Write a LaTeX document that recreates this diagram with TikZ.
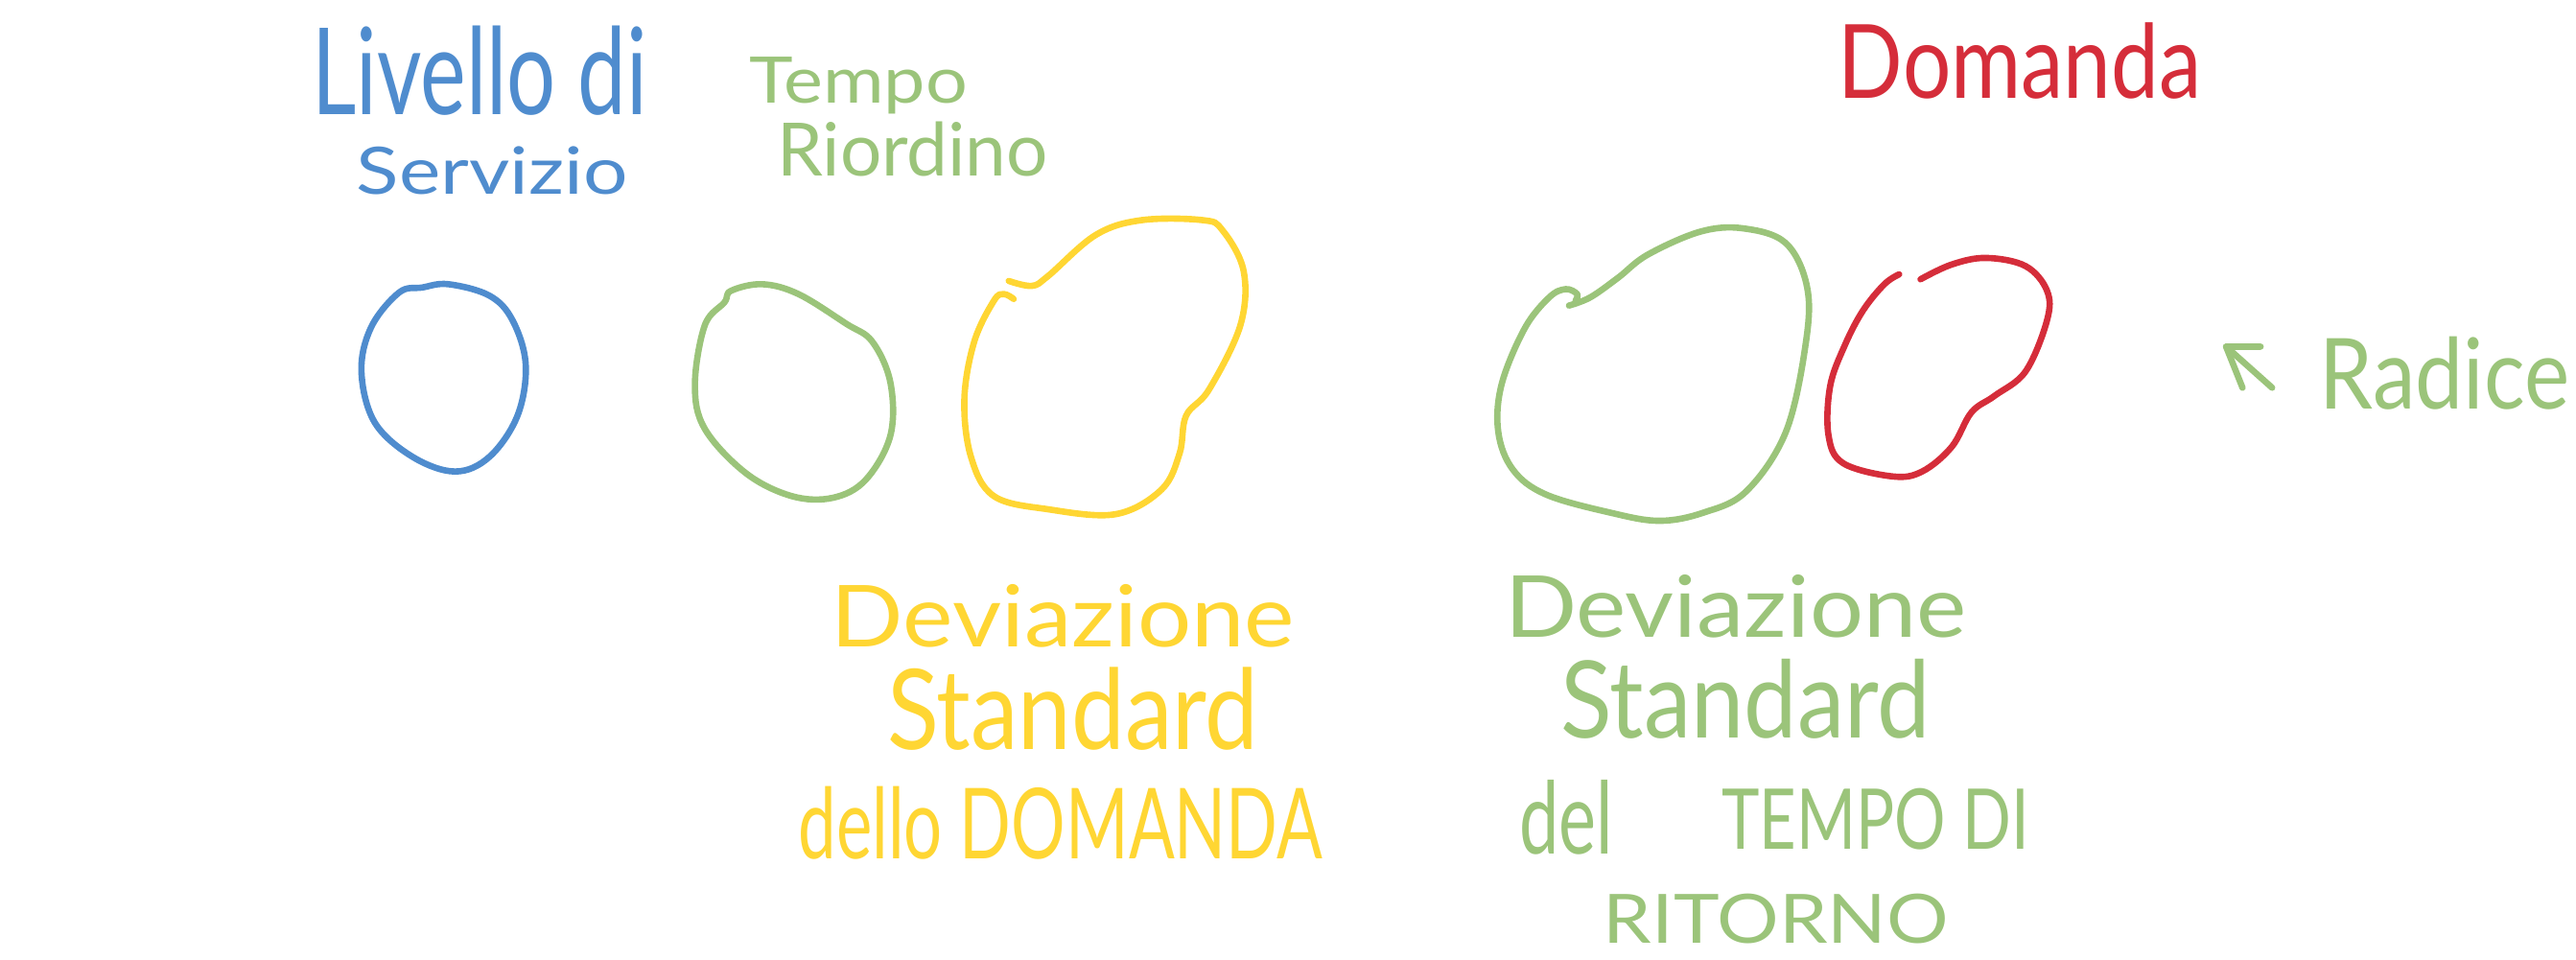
\documentclass[tikz,border=0pt]{standalone}
\usepackage{fontspec}
\setmainfont{Lato}
\usepackage{graphicx}
\definecolor{hblue}{HTML}{4F8CCE}
\definecolor{hgreen}{HTML}{9BC47A}
\definecolor{hyellow}{HTML}{FFD633}
\definecolor{hred}{HTML}{D52D3A}
\newlength\pxu
\setlength\pxu{0.2mm}
\newcommand\hwfit[3]{\resizebox{#1\pxu}{#2\pxu}{#3}}
\begin{document}
\begin{tikzpicture}[x=0.2mm,y=-0.2mm,line cap=round,line join=round,
  loopline/.style={line width=2.2pt},
  handtext/.style={anchor=base west,inner sep=0pt,outer sep=0pt}]
\useasboundingbox (0,0) rectangle (1568,584);
\clip (0,0) rectangle (1568,584);
% ---- top labels
\node[handtext,text=hblue]  (livello)  at (190,70)  {\hwfit{204}{54}{Livello di}};
\node[handtext,text=hblue]  (servizio) at (217,118) {\hwfit{165}{29}{Servizio}};
\node[handtext,text=hgreen] (tempo)    at (456,63)  {\hwfit{133}{28}{Tempo}};
\node[handtext,text=hgreen] (riordino) at (473,107) {\hwfit{165}{33}{Riordino}};
\node[handtext,text=hred]   (domanda)  at (1119,60) {\hwfit{221}{46}{Domanda}};
\node[handtext,text=hgreen] (radice)   at (1412,249){\hwfit{152}{44}{Radice}};
% ---- arrow to Radice
\coordinate (arrTip)  at (1355,211);
\coordinate (arrTail) at (1383,236);
\coordinate (arrA)    at (1376,211);
\coordinate (arrB)    at (1365,236);
\draw[loopline,hgreen] (arrTail) -- (arrTip);
\draw[loopline,hgreen] (arrA) -- (arrTip) -- (arrB);
% ---- loops
\draw[loopline,hblue] plot[smooth cycle,tension=0.6] coordinates
 {(257,175) (273,173) (298,180) (312,195) (320,222) (315,253) (298,278) (277,287)
  (251,278) (228,257) (220,226) (226,199) (243,178)};
\draw[loopline,hgreen] plot[smooth cycle,tension=0.6] coordinates
 {(445,177) (464,173) (486,179) (515,197) (531,208) (542,233) (542,265) (527,292)
  (507,303) (482,302) (454,288) (429,261) (423,234) (429,198) (441,184)};
\draw[loopline,hyellow] plot[smooth,tension=0.6] coordinates
 {(614,171) (628,174) (638,168) (667,143) (695,134) (732,134) (744,140) (757,165)
  (755,198) (736,237) (722,253) (718,276) (707,298) (679,313) (638,310) (605,302)
  (591,278) (587,243) (593,208) (605,183) (611,179) (617,182)};
\draw[loopline,hgreen] plot[smooth,tension=0.6] coordinates
 {(955,186) (968,181) (985,169) (1003,155) (1035,141) (1061,139) (1087,148) (1100,175)
  (1099,210) (1087,263) (1063,299) (1037,312) (1010,317) (980,312) (941,301) (921,286)
  (912,263) (914,234) (928,200) (943,181) (953,176) (960,179) (959,183)};
\draw[loopline,hred] plot[smooth,tension=0.6] coordinates
 {(1156,167) (1147,173) (1134,189) (1123,210) (1114,235) (1113,265) (1122,282)
  (1152,290) (1170,287) (1188,272) (1200,251) (1214,241) (1233,226) (1246,195)
  (1246,177) (1233,162) (1209,157) (1188,161) (1169,170)};
% ---- yellow label
\node[handtext,text=hyellow] (ydev)   at (506,394) {\hwfit{282}{38}{Deviazione}};
\node[handtext,text=hyellow] (ystd)   at (540,456) {\hwfit{226}{50}{Standard}};
\node[handtext,text=hyellow] (ydello) at (486,523) {\hwfit{319}{44}{dello DOMANDA}};
% ---- green label
\node[handtext,text=hgreen] (gdev)   at (916,388)  {\hwfit{281}{38}{Deviazione}};
\node[handtext,text=hgreen] (gstd)   at (950,449)  {\hwfit{225}{48}{Standard}};
\node[handtext,text=hgreen] (gdel)   at (925,520)  {\hwfit{57}{45}{del}};
\node[handtext,text=hgreen] (gtempo) at (1048,517) {\hwfit{187}{37}{TEMPO DI}};
\node[handtext,text=hgreen] (grit)   at (976,574)  {\hwfit{210}{30}{RITORNO}};
\end{tikzpicture}
\end{document}
